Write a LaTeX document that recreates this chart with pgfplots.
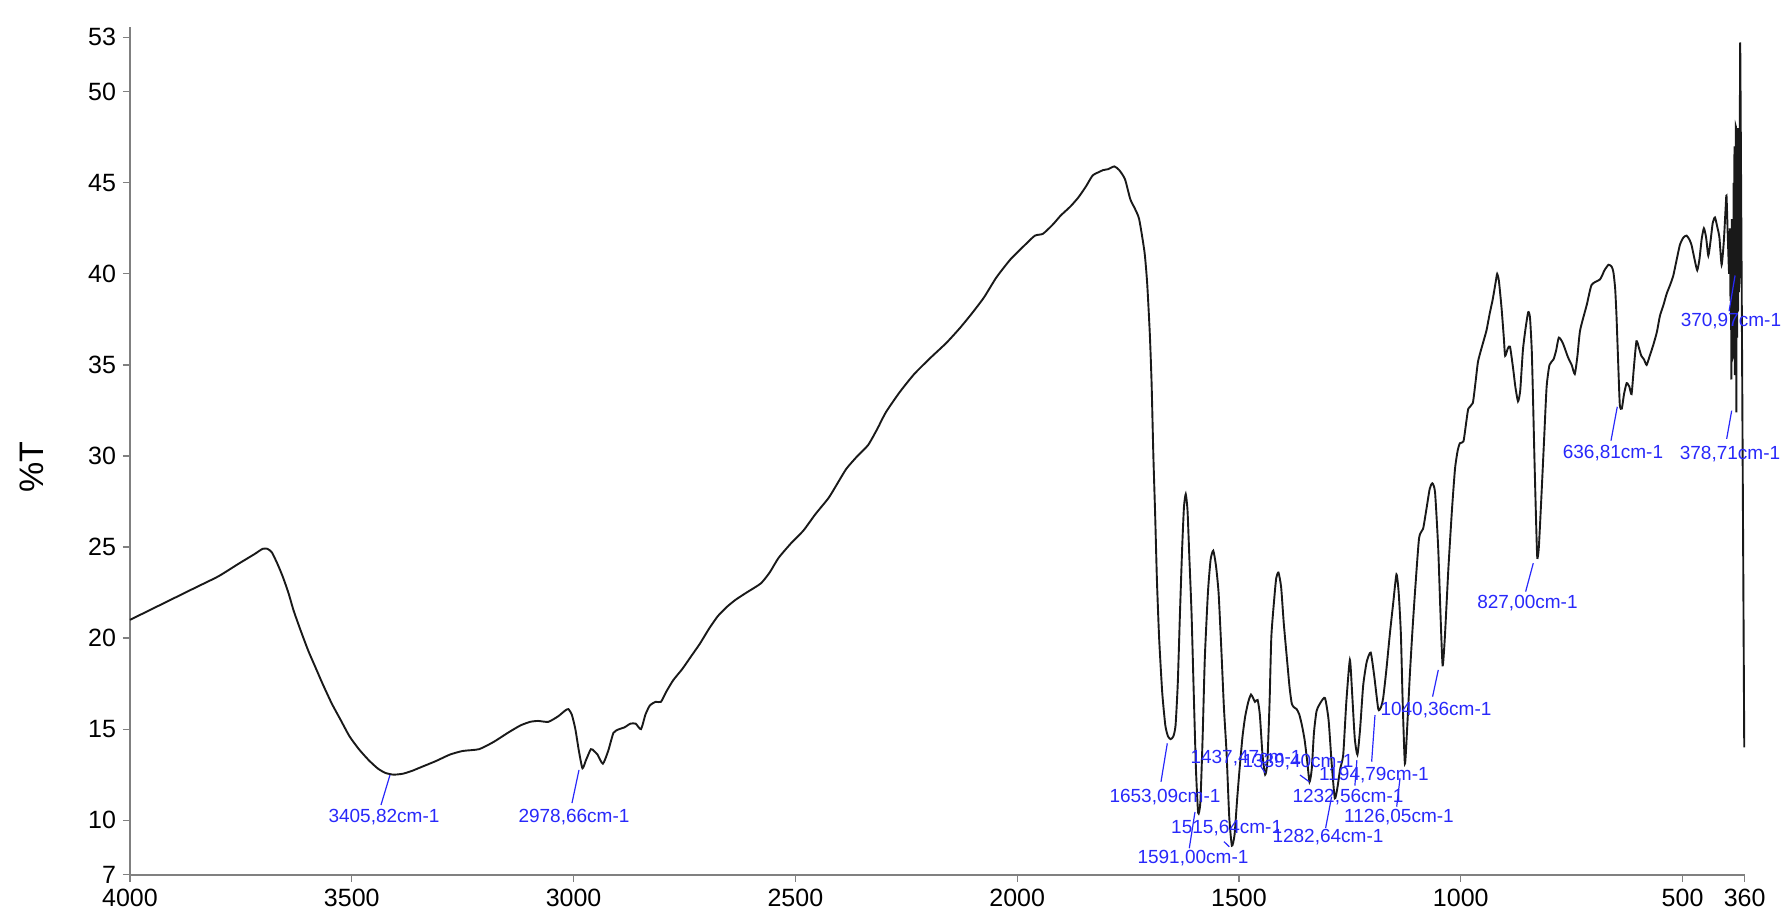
\documentclass[border=0pt]{standalone}
\usepackage{pgfplots}
\pgfplotsset{compat=1.18}
\usepackage{fontspec}
\setmainfont{Liberation Sans}
\definecolor{peakblue}{RGB}{40,40,250}
\definecolor{axisgray}{RGB}{128,128,128}
\tikzset{
  lbl/.style={font=\fontsize{9.5}{11}\selectfont, text=peakblue, inner sep=0pt},
  ldr/.style={draw=peakblue, line width=0.6pt},
}

\begin{document}
\begin{tikzpicture}
\path[use as bounding box] (-65pt,-18.6pt) rectangle (829pt,437.4pt);
\begin{axis}[
  at={(0pt,0pt)}, anchor=south west,
  width=807.35pt, height=423.75pt, scale only axis,
  x dir=reverse, xmin=360, xmax=4000, ymin=7, ymax=53.54,
  axis x line=bottom, axis y line=left,
  axis line style={-, draw=axisgray, line width=1pt},
  xtick={4000,3500,3000,2500,2000,1500,1000,500,360},
  ytick={7,10,15,20,25,30,35,40,45,50,53},
  tick align=outside, major tick length=3.5pt,
  tick style={draw=axisgray, line width=0.6pt},
  tick label style={font=\fontsize{12.5}{14}\selectfont},
  /pgf/number format/assume math mode=true,
  /pgf/number format/1000 sep={},
  clip=false,
]
\addplot[black!90, line width=0.95pt, smooth, tension=0.35] coordinates {
(4000,21.0) (3950,21.6) (3900,22.2) (3850,22.8) (3800,23.4) (3754,24.1)
(3720,24.6) (3701,24.9) (3690,24.9) (3680,24.7) (3668,24.1) (3656,23.4)
(3643,22.5) (3631,21.5) (3615,20.4) (3598,19.3) (3582,18.4) (3566,17.5)
(3545,16.4) (3525,15.5) (3505,14.6) (3484,13.9) (3462,13.3) (3442,12.85)
(3425,12.6) (3406,12.5) (3385,12.55) (3365,12.7) (3345,12.9) (3310,13.25)
(3279,13.6) (3250,13.8) (3213,13.9) (3180,14.3) (3148,14.8) (3120,15.2)
(3098,15.4) (3080,15.45) (3057,15.4) (3035,15.7) (3020,16.0) (3012,16.1)
(3004,15.8) (2996,15.0) (2988,13.8) (2980,12.85) (2972,13.3) (2961,13.9)
(2954,13.8) (2946,13.6) (2934,13.1) (2922,13.8) (2910,14.8) (2897,15.0)
(2885,15.1) (2872,15.3) (2860,15.3) (2848,15.0) (2838,15.8) (2828,16.3)
(2815,16.5) (2803,16.5) (2790,17.1) (2775,17.7) (2755,18.3) (2735,19.0)
(2715,19.7) (2695,20.5) (2675,21.2) (2655,21.7) (2635,22.1) (2610,22.5)
(2578,23.0) (2558,23.6) (2538,24.4) (2510,25.2) (2482,25.9) (2455,26.8)
(2425,27.7) (2405,28.5) (2385,29.3) (2360,30.0) (2336,30.6) (2315,31.5)
(2296,32.4) (2265,33.5) (2232,34.5) (2195,35.4) (2160,36.2) (2130,37.0)
(2103,37.8) (2075,38.7) (2047,39.8) (2015,40.8) (1982,41.6) (1960,42.1)
(1942,42.2) (1920,42.7) (1902,43.2) (1880,43.7) (1862,44.2) (1845,44.8)
(1830,45.4) (1815,45.6) (1806,45.7) (1795,45.75) (1781,45.9) (1770,45.7)
(1757,45.2) (1745,44.1) (1735,43.6) (1725,43.0) (1713,41.2) (1707,39.5)
(1701,36.7) (1697,34.0) (1693,30.0) (1689,26.8) (1685,23.2) (1680,20.0)
(1673,17.0) (1666,15.2) (1660,14.6) (1654,14.45) (1648,14.6) (1643,15.2)
(1638,17.5) (1633,21.4) (1628,25.0) (1624,27.2) (1620,27.9) (1616,27.0)
(1612,24.5) (1607,21.4) (1602,17.0) (1597,12.8) (1592,10.4) (1587,11.0)
(1582,14.5) (1577,18.9) (1570,22.5) (1564,24.3) (1558,24.8) (1552,24.0)
(1546,22.5) (1540,19.5) (1534,16.2) (1528,13.7) (1522,10.2) (1516,8.6)
(1510,9.2) (1504,11.2) (1498,13.0) (1492,14.6) (1486,15.7) (1479,16.5)
(1473,16.9) (1468,16.7) (1464,16.5) (1458,16.6) (1453,15.8) (1447,13.6)
(1441,12.5) (1436,13.2) (1431,16.5) (1427,20.1) (1420,22.3) (1416,23.3)
(1411,23.6) (1405,22.8) (1399,20.8) (1392,18.9) (1386,17.3) (1381,16.4)
(1376,16.2) (1370,16.1) (1364,15.8) (1358,15.2) (1352,14.4) (1346,13.2)
(1341,12.1) (1336,12.8) (1331,14.8) (1325,16.0) (1315,16.5) (1306,16.7)
(1298,15.5) (1291,13.1) (1284,11.2) (1278,11.8) (1272,12.8) (1265,13.6)
(1258,16.5) (1250,18.8) (1245,17.0) (1239,14.5) (1233,13.6) (1227,15.0)
(1220,17.4) (1212,18.7) (1203,19.2) (1195,17.9) (1186,16.1) (1180,16.2)
(1175,16.7) (1168,18.2) (1160,20.2) (1152,22.0) (1145,23.5) (1140,22.5)
(1135,20.2) (1131,16.5) (1126,13.1) (1121,15.0) (1115,17.9) (1109,20.4)
(1103,22.6) (1094,25.5) (1085,26.0) (1078,27.0) (1070,28.2) (1064,28.5)
(1058,28.0) (1051,25.0) (1046,21.5) (1041,18.5) (1036,20.0) (1028,23.8)
(1020,27.0) (1013,29.3) (1007,30.3) (1002,30.7) (994,30.8) (988,31.8)
(983,32.6) (973,32.9) (967,34.0) (961,35.2) (950,36.2) (942,36.9)
(935,37.8) (928,38.6) (921,39.6) (918,40.0) (914,39.6) (908,38.1)
(903,36.5) (900,35.5) (894,35.9) (889,36.0) (882,34.8) (877,33.8)
(871,33.0) (866,33.6) (860,35.8) (854,37.0) (848,37.9) (844,37.6)
(840,35.8) (837,33.0) (834,29.9) (830,26.2) (827.5,24.4) (824,25.0)
(818,27.9) (812,31.0) (806.5,33.8) (800,35.0) (791,35.3) (785,35.8)
(779,36.5) (770,36.2) (758,35.4) (750,35.0) (743,34.5) (737,35.5)
(731,36.9) (716,38.3) (705,39.4) (686,39.7) (676,40.2) (667,40.5)
(660,40.4) (656,40.1) (652,39.2) (649,37.7) (645,35.0) (641.5,32.8)
(637,32.6) (632,33.4) (626,34.0) (620,33.8) (615,33.4) (610,34.8)
(604,36.3) (598,35.9) (593,35.5) (587,35.3) (581,35.0) (574,35.5)
(566,36.1) (558,36.8) (551,37.7) (543,38.3) (536,38.9) (528,39.4)
(521,39.9) (514,40.7) (506,41.6) (498,42.0) (491,42.1) (485,41.9)
(480,41.6) (473,40.8) (467,40.2) (462,40.8) (457,41.9) (452,42.5)
(447,42.0) (442,41.0) (437,41.8) (432,42.8) (427,43.1) (422,42.6)
(417,42.0) (412,40.5) (407,41.8) (403,43.6) (401,44.3) (398,42.0)
(395,40.0) (393,42.5) (392,38.5) (391,41.5) (390,34.2) (389,43.0)
(388,37.0) (387,41.0) (386,35.5) (385,45.0) (384,36.0) (383,47.0)
(382,34.5) (381,40.0) (380,48.1) (379,35.0) (378.7,32.7) (378,46.0)
(377,36.5) (376,48.0) (375,38.0) (374,44.0) (373,39.0) (372,41.5)
(371,40.0) (370,52.4) (361,14.0)
};

% axis title on the transmittance scale
\node[rotate=90, font=\fontsize{17}{20}\selectfont] at (axis description cs:-0.061,0.4806) {\%T};

% peak annotations
\draw[ldr] (axis cs:3413.9,12.48) -- (axis cs:3434.2,10.83);
\node[lbl] at (axis cs:3427.4,10.19) {3405,82cm-1};
\draw[ldr] (axis cs:2987.8,12.76) -- (axis cs:3003.6,10.94);
\node[lbl] at (axis cs:2999.1,10.18) {2978,66cm-1};
\draw[ldr] (axis cs:1661.6,14.22) -- (axis cs:1675.8,12.11);
\node[lbl] at (axis cs:1666.8,11.29) {1653,09cm-1};
\draw[ldr] (axis cs:1599.2,10.45) -- (axis cs:1612.0,8.46);
\node[lbl] at (axis cs:1603.7,7.92) {1591,00cm-1};
\draw[ldr] (axis cs:1533.8,8.82) -- (axis cs:1521.8,8.54);
\node[lbl] at (axis cs:1527.7,9.56) {1515,64cm-1};
\draw[ldr] (axis cs:1452,13.0) -- (axis cs:1441,12.6);
\node[lbl] at (axis cs:1484.2,13.40) {1437,47cm-1};
\draw[ldr] (axis cs:1362.5,12.48) -- (axis cs:1341.6,12.11);
\node[lbl] at (axis cs:1367,13.21) {1339,40cm-1};
\draw[ldr] (axis cs:1304.7,9.57) -- (axis cs:1291.2,11.29);
\node[lbl] at (axis cs:1299.4,9.09) {1282,64cm-1};
\draw[ldr] (axis cs:1238.7,11.9) -- (axis cs:1234.2,13.3);
\node[lbl] at (axis cs:1254.3,11.29) {1232,56cm-1};
\draw[ldr] (axis cs:1200.9,13.21) -- (axis cs:1193.4,15.77);
\node[lbl] at (axis cs:1195.7,12.48) {1194,79cm-1};
\draw[ldr] (axis cs:1144.5,10.74) -- (axis cs:1137.0,12.30);
\node[lbl] at (axis cs:1139.3,10.19) {1126,05cm-1};
\draw[ldr] (axis cs:1050.7,18.25) -- (axis cs:1063.6,16.78);
\node[lbl] at (axis cs:1055.9,16.05) {1040,36cm-1};
\draw[ldr] (axis cs:836.6,24.11) -- (axis cs:853.8,22.55);
\node[lbl] at (axis cs:849.7,21.91) {827,00cm-1};
\draw[ldr] (axis cs:647.2,32.70) -- (axis cs:661.4,30.84);
\node[lbl] at (axis cs:656.9,30.15) {636,81cm-1};
\draw[ldr] (axis cs:389.3,32.49) -- (axis cs:400.6,30.94);
\node[lbl] at (axis cs:393.1,30.11) {378,71cm-1};
\draw[ldr] (axis cs:381.7,39.91) -- (axis cs:395.2,37.95);
\node[lbl] at (axis cs:391,37.39) {370,97cm-1};
\end{axis}
\end{tikzpicture}
\end{document}
